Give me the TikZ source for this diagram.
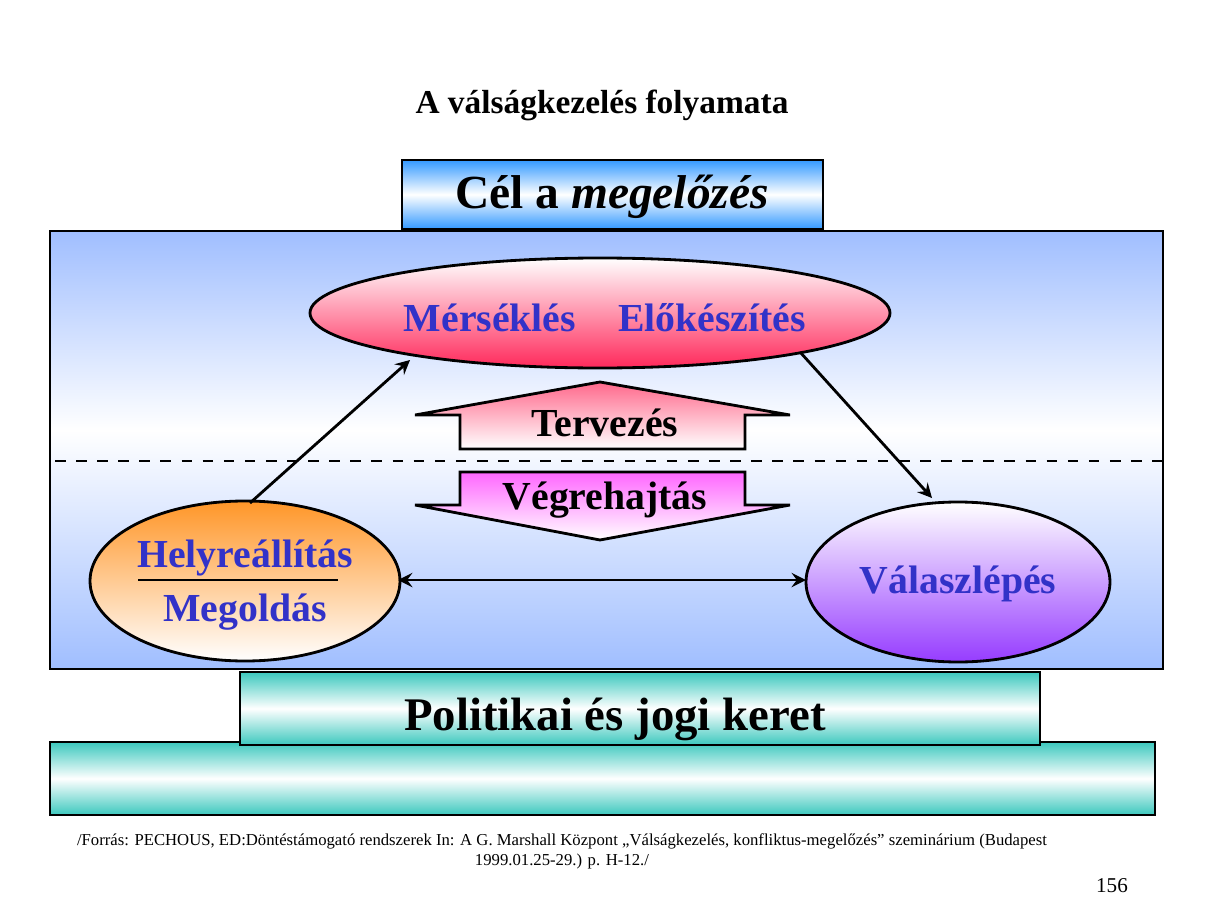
\documentclass[tikz,border=0pt]{standalone}
\usepackage{fontspec}
\setmainfont{Liberation Serif}
\usetikzlibrary{positioning,calc}
\definecolor{skyb}{RGB}{51,153,255}
\definecolor{paleb}{RGB}{160,190,255}
\definecolor{pinkr}{RGB}{255,40,90}
\definecolor{orng}{RGB}{255,150,40}
\definecolor{purp}{RGB}{150,60,255}
\definecolor{teal2}{RGB}{60,200,190}
\definecolor{txtb}{RGB}{50,50,200}
\begin{document}
\begin{tikzpicture}[x=0.01cm,y=-0.01cm]
	\tikzset{bar/.style={draw,thick,top color=teal2,bottom color=teal2,middle color=white},
		lbl/.style={font=\bfseries,text=txtb,scale=1.13},
		arr/.style={thick,-stealth}}
	\useasboundingbox (0,0) rectangle (1205,903);
	\node[font=\bfseries,scale=0.95] (title) at (602,105) {A válságkezelés folyamata};
	% frame
	\fill[top color=paleb,bottom color=white] (50,231) rectangle (1163,431);
	\fill[top color=white,bottom color=paleb] (50,430) rectangle (1163,669);
	\draw[thick] (50,231) rectangle (1163,669);
	\draw[top color=skyb,bottom color=skyb,middle color=white,thick] (402,160) rectangle (823,229);
	\node[font=\bfseries,scale=1.35] (goal) at (612,197) {Cél a \textit{megelőzés}};
	\draw[dashed,thick] (55,461) -- (1163,461);
	% ovals
	\draw[thick,top color=white,bottom color=pinkr] (600,313) ellipse (290 and 55);
	\node[lbl] (mers) at (490,318) {Mérséklés};
	\node[lbl] (elok) at (712,318) {Előkészítés};
	\draw[thick,top color=orng,bottom color=white] (245,581) ellipse (155 and 80);
	\draw[thick,top color=white,bottom color=purp] (958,582) ellipse (152 and 80);
	\node[lbl] (helyr) at (245,558) {Helyreállítás};
	\node[lbl] (megold) at (245,612) {Megoldás};
	\draw[thick] (138,580) -- (338,580);
	\node[lbl] (valasz) at (958,584) {Válaszlépés};
	% plan / act arrows
	\draw[thick,top color=pinkr!70,bottom color=white] (600,382) -- (790,415) -- (745,415) -- (745,449)
		-- (460,449) -- (460,415) -- (415,415) -- cycle;
	\node[font=\bfseries,scale=1.13] (terv) at (605,423) {Tervezés};
	\draw[thick,top color=magenta!60,bottom color=white] (460,472) -- (745,472) -- (745,505) -- (790,505)
		-- (600,540) -- (415,505) -- (460,505) -- cycle;
	\node[font=\bfseries,scale=1.13] (vegr) at (605,500) {Végrehajtás};
	\coordinate (a1) at (250,503);
	\coordinate (a2) at (410,360);
	\coordinate (b1) at (800,352);
	\coordinate (b2) at (932,498);
	\coordinate (c1) at (398,580);
	\coordinate (c2) at (806,580);
	\draw[arr] (a1) -- (a2);
	\draw[arr] (b1) -- (b2);
	\draw[thick,stealth-stealth] (c1) -- (c2);
	% base
	\draw[bar] (50,742) rectangle (1155,815);
	\draw[bar] (240,672) rectangle (1040,745);
	\node[font=\bfseries,scale=1.33] (frame) at (615,719) {Politikai és jogi keret};
	\node[align=center,scale=0.475,inner sep=0] (src) at (562,851) {/Forrás: PECHOUS, ED:Döntéstámogató rendszerek In: A G. Marshall Központ „Válságkezelés, konfliktus-megelőzés” szeminárium (Budapest\\1999.01.25-29.) p. H-12./};
	\node[scale=0.6] (page) at (1112,886) {156};
\end{tikzpicture}
\end{document}
